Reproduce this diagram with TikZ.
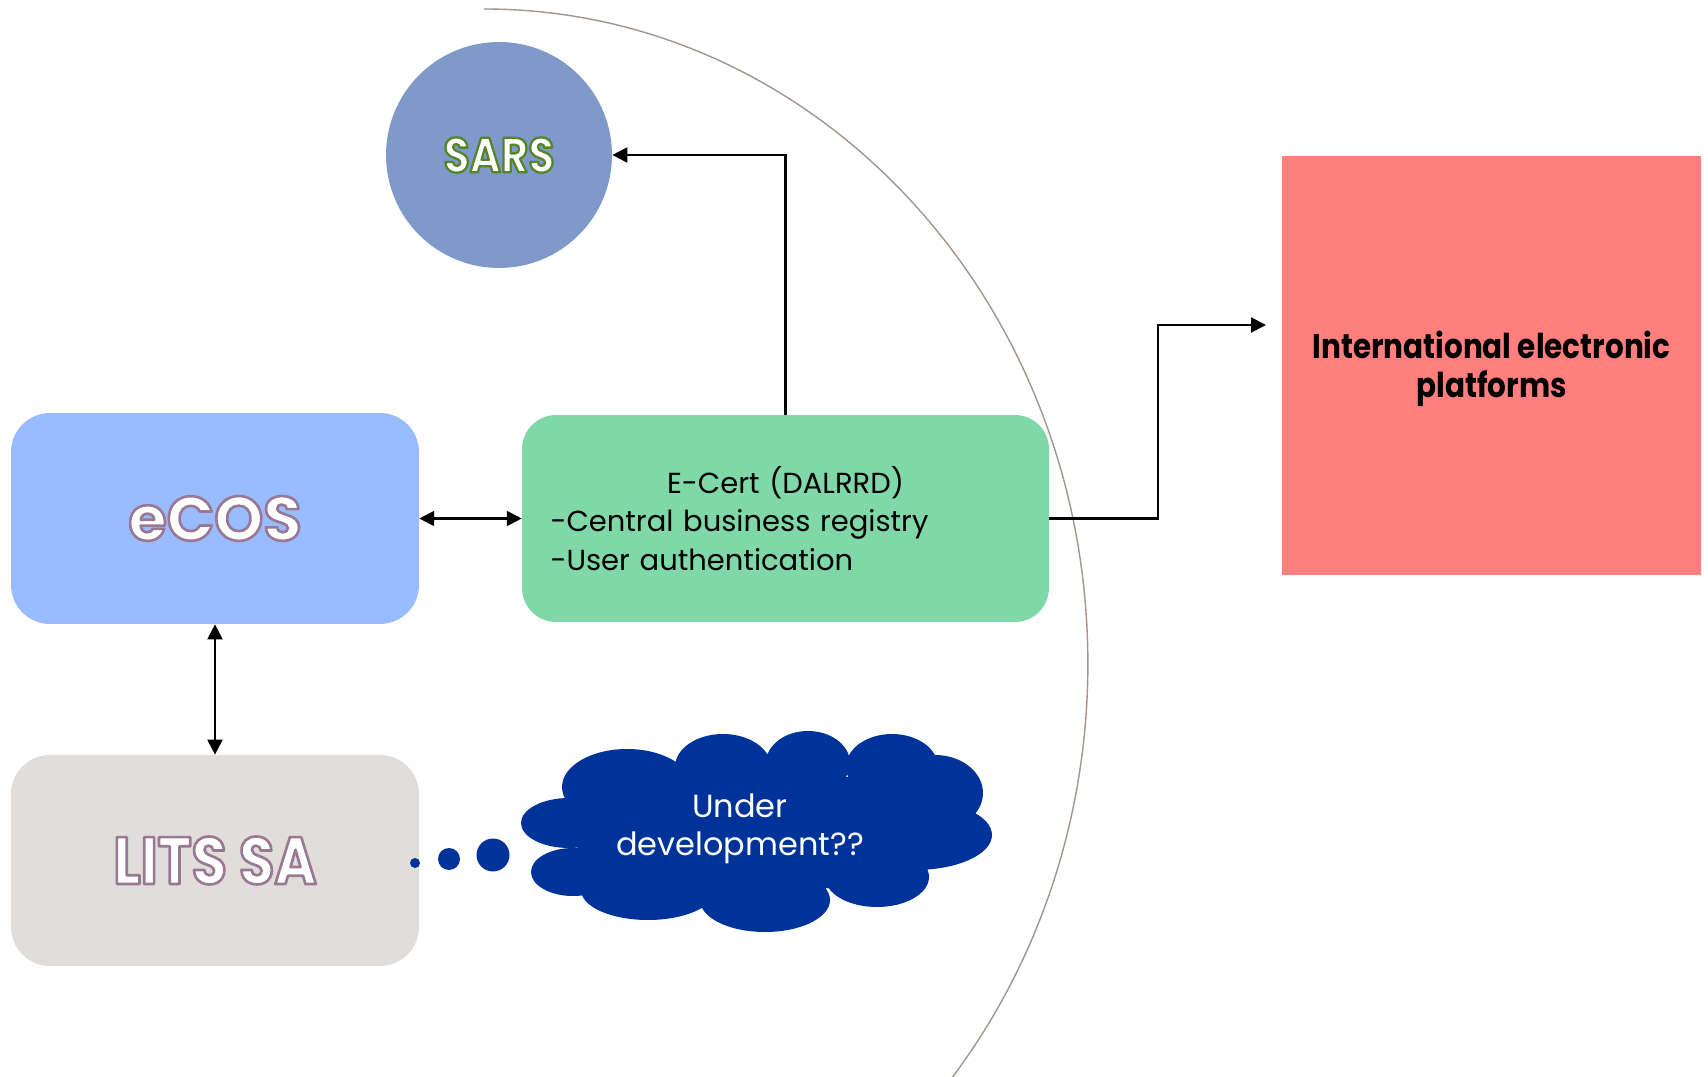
\documentclass[tikz,border=0pt]{standalone}
\usepackage{fontspec}
\setmainfont{Poppins}
\newfontfamily\narrowgeo[FakeStretch=0.86]{Poppins}
\usetikzlibrary{arrows.meta}
\definecolor{sarsblue}{RGB}{127,153,203}
\definecolor{ecosblue}{RGB}{153,187,255}
\definecolor{ecertgreen}{RGB}{128,216,168}
\definecolor{litsgray}{RGB}{224,221,218}
\definecolor{intpink}{RGB}{255,127,127}
\definecolor{cloudblue}{RGB}{0,51,153}
\definecolor{arcgray}{RGB}{160,150,144}
\makeatletter
\newcommand\outlinedtext[3]{{\color{white}\pgfsys@beginscope\pgfsys@invoke{#1 RG #2 w 1 j 2 Tr}#3\pgfsys@endscope}}
\makeatother
\begin{document}
\begin{tikzpicture}[x=0.02cm,y=-0.02cm,
  sidebox/.style={rounded corners=0.78cm, minimum width=8.16cm, minimum height=4.22cm, inner sep=0pt},
  arr/.style={line width=1.2pt, -{Triangle[length=8.5pt,width=8.5pt]}},
  darr/.style={line width=1.2pt, {Triangle[length=8.5pt,width=8.5pt]}-{Triangle[length=8.5pt,width=8.5pt]}},
  dot/.style={circle, fill=cloudblue, inner sep=0pt},
  lobe/.style={cloudblue}
]
\useasboundingbox (0,0) rectangle (1708,1077);
% large arc
\draw[arcgray, line width=0.8pt] (484,9) arc[start angle=90, end angle=-40, x radius=12.08cm, y radius=13.1cm];
% SARS
\node[circle, fill=sarsblue, minimum size=4.52cm, inner sep=0pt] (sars) at (499,155)
  {\outlinedtext{0.33 0.52 0.16}{1.3}{\narrowgeo\bfseries\fontsize{28}{34}\selectfont SARS}};
% eCOS
\node[sidebox, fill=ecosblue] (ecos) at (215,518.5)
  {\outlinedtext{0.6 0.47 0.58}{1.5}{\bfseries\fontsize{35.5}{42}\selectfont eCOS}};
% LITS SA
\node[sidebox, fill=litsgray] (lits) at (215,860.5)
  {\outlinedtext{0.6 0.47 0.58}{1.5}{\narrowgeo\bfseries\fontsize{38}{44}\selectfont LITS SA}};
% E-Cert
\node[fill=ecertgreen, rounded corners=0.68cm, minimum width=10.54cm, minimum height=4.14cm,
  inner sep=0pt, text width=9.4cm, align=left, font=\fontsize{16.5}{22}\selectfont] (ecert) at (785.5,518.5)
  {\hfill E-Cert (DALRRD)\hfill\null\\-Central business registry\\-User authentication};
% International
\node[fill=intpink, minimum size=8.38cm, inner sep=0pt,
  font=\narrowgeo\bfseries\fontsize{19.5}{22.5}\selectfont] (intl) at (1491.5,365.5)
  {\parbox{8cm}{\centering\vspace*{4pt}International electronic\\platforms}};
% connectors
\coordinate (k1) at (1158,518.5);
\coordinate (intin) at (1266,325);
\draw[arr] (ecert.north) |- (sars.east);
\draw[arr] (ecert.east) -- (k1) |- (intin);
\draw[darr] (ecos.east) -- (ecert.west);
\draw[darr] (ecos.south) -- (lits.north);
% thought dots
\node[dot, minimum size=0.2cm] (d1) at (415,863) {};
\node[dot, minimum size=0.44cm] (d2) at (449,859) {};
\node[dot, minimum size=0.66cm] (d3) at (493,855) {};
% cloud
\fill[lobe]
  (627,787) ellipse [x radius=65, y radius=38]
  (723,767) ellipse [x radius=48, y radius=33]
  (808,763) ellipse [x radius=42, y radius=32]
  (892,767) ellipse [x radius=46, y radius=33]
  (935,793) ellipse [x radius=48, y radius=38]
  (915,835) ellipse [x radius=77, y radius=35]
  (877,877) ellipse [x radius=52, y radius=30]
  (765,900) ellipse [x radius=65, y radius=32]
  (648,890) ellipse [x radius=67, y radius=30]
  (573,872) ellipse [x radius=42, y radius=24]
  (569,823) ellipse [x radius=48, y radius=25]
  (756,831) ellipse [x radius=185, y radius=62];
\node[text=white, align=center, font=\fontsize{18.2}{21.5}\selectfont] (cloudtext) at (740,829)
  {Under\\development??};
\end{tikzpicture}
\end{document}
